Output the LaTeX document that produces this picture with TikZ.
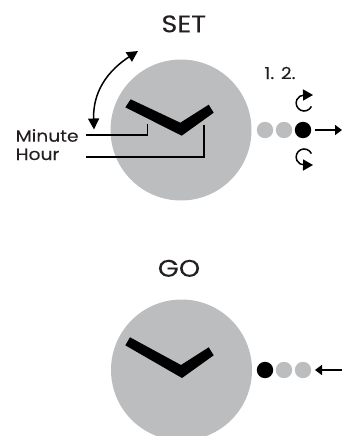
\documentclass[tikz,border=0pt]{standalone}
\usepackage{fontspec}
\setmainfont[FakeStretch=1.13,FakeBold=0.1]{Poppins}
\usetikzlibrary{arrows.meta}
\definecolor{dialgrey}{RGB}{188,189,191}
\definecolor{inkblack}{RGB}{35,31,32}
\tikzset{
  x=1pt,y=-1pt,
  dial/.style={circle,fill=dialgrey,minimum size=141pt,inner sep=0pt},
  bead/.style={circle,fill=dialgrey,minimum size=16.4pt,inner sep=0pt},
  activebead/.style={bead,fill=black},
  hand/.style={fill=black},
  title/.style={font=\fontsize{24}{24}\selectfont,text=inkblack,inner sep=0pt,anchor=base},
  lab/.style={font=\fontsize{16.5}{16.5}\selectfont,text=inkblack,inner sep=0pt},
  leader/.style={draw=black,line width=1.5pt},
  pointer/.style={draw=black,line width=1.5pt,-{Triangle[length=7pt,width=10pt]}},
  twoway/.style={draw=black,line width=1.5pt,{Triangle[length=11pt,width=11pt]}-{Triangle[length=11pt,width=11pt]}},
  turn/.style={draw=black,line width=1.5pt,-{Triangle[length=10pt,width=11pt]}}
}
\begin{document}
\begin{tikzpicture}
\useasboundingbox (0,0) rectangle (342,436);
\clip (0,0) rectangle (342,436);
% SET
\node[title] (settitle) at (183.7,32.3) {SET};
\node[dial] (dialA) at (181,130) {};
\fill[hand] (130.7,99.3) -- (125.3,107.3) -- (181.7,135.7) -- (213.7,112.7) -- (208.7,104.7) -- (180.3,122.7) -- cycle;
\node[lab,anchor=base west] (minute) at (15.5,141.7) {Minute};
\node[lab,anchor=base west] (hour) at (15.5,160) {Hour};
\coordinate (mstart) at (86,135);
\coordinate (mend) at (147.5,124);
\coordinate (hstart) at (86,157);
\coordinate (hend) at (204,125);
\draw[leader] (mstart) -| (mend);
\draw[leader] (hstart) -| (hend);
\coordinate (sweepA) at (94,129.5);
\coordinate (sweepB) at (138,51);
\draw[twoway] (sweepA) .. controls (93,100) and (100,76) .. (sweepB);
\node[lab,anchor=base] (steps) at (280,79) {1. 2.};
\node[bead] (a1) at (265,130) {};
\node[bead] (a2) at (284,130) {};
\node[activebead] (a3) at (303,130) {};
\coordinate (aout) at (342,130);
\draw[pointer] (315,130) -- (aout);
\draw[turn] (311.4,106.4) arc (25:270:8) -- (313,95);
\draw[turn] (311.4,153.6) arc (-25:-270:8) -- (313,165);
% GO
\node[title] (gotitle) at (179,276.7) {GO};
\node[dial] (dialB) at (181.5,370) {};
\fill[hand] (130,337.3) -- (125.3,345.3) -- (182,378) -- (213.7,355.3) -- (208.7,347.3) -- (181,365) -- cycle;
\node[activebead] (b1) at (265,370) {};
\node[bead] (b2) at (284,370) {};
\node[bead] (b3) at (303,370) {};
\coordinate (bin) at (342,370);
\draw[pointer] (bin) -- (315,370);
\end{tikzpicture}
\end{document}
